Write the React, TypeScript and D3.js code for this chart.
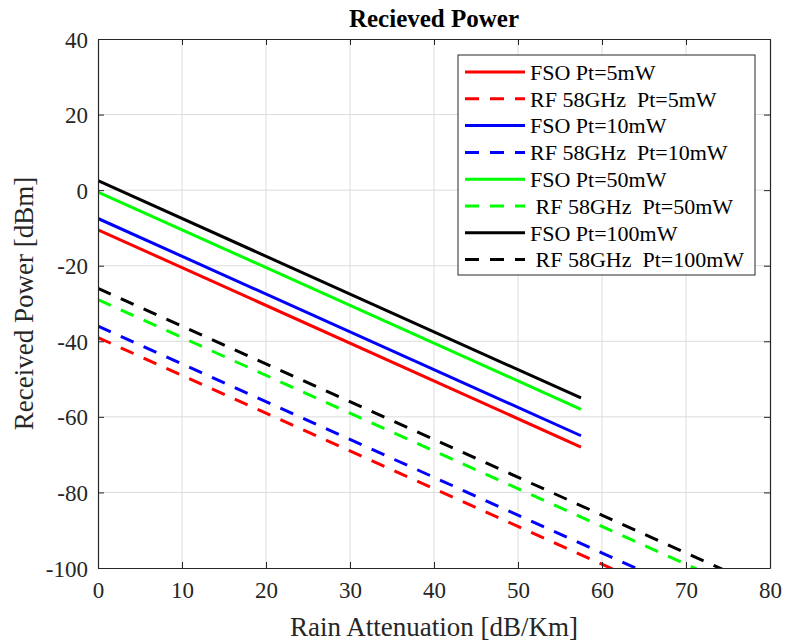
import { useEffect, useRef } from "react";
import * as d3 from "d3";

// x = rain attenuation [dB/Km], y = received power [dBm]
const fsoX = [0, 57.5];
const rfX = [0, 80];
const fso5 = [-10.5, -68];
const rf5 = [-39, -119];
const fso10 = [-7.5, -65];
const rf10 = [-36, -116];
const fso50 = [-0.5, -58];
const rf50 = [-29, -109];
const fso100 = [2.5, -55];
const rf100 = [-26, -106];

const xTicks = [0, 10, 20, 30, 40, 50, 60, 70, 80];
const yTicks = [-100, -80, -60, -40, -20, 0, 20, 40];

const series = [
  { label: "FSO Pt=5mW", x: fsoX, y: fso5, color: "#ff0000", dashed: false },
  { label: "RF 58GHz  Pt=5mW", x: rfX, y: rf5, color: "#ff0000", dashed: true },
  { label: "FSO Pt=10mW", x: fsoX, y: fso10, color: "#0000ff", dashed: false },
  { label: "RF 58GHz  Pt=10mW", x: rfX, y: rf10, color: "#0000ff", dashed: true },
  { label: "FSO Pt=50mW", x: fsoX, y: fso50, color: "#00ff00", dashed: false },
  { label: " RF 58GHz  Pt=50mW", x: rfX, y: rf50, color: "#00ff00", dashed: true },
  { label: "FSO Pt=100mW", x: fsoX, y: fso100, color: "#000000", dashed: false },
  { label: " RF 58GHz  Pt=100mW", x: rfX, y: rf100, color: "#000000", dashed: true },
];

export default function App() {
  const ref = useRef<SVGSVGElement>(null);

  useEffect(() => {
    const svg = d3.select(ref.current);
    svg.selectAll("*").remove();
    const width = 785;
    const height = 641;
    const margin = { top: 39, right: 15, bottom: 73, left: 98 };
    const innerWidth = width - margin.left - margin.right;
    const innerHeight = height - margin.top - margin.bottom;
    const font = "'Liberation Serif', 'Times New Roman', serif";

    const xScale = d3.scaleLinear().domain([0, 80]).range([0, innerWidth]);
    const yScale = d3.scaleLinear().domain([-100, 40]).range([innerHeight, 0]);

    svg.append("rect").attr("width", width).attr("height", height).attr("fill", "#fff");

    const g = svg.append("g").attr("transform", `translate(${margin.left}, ${margin.top})`);

    // grid
    g.append("g")
      .selectAll("line")
      .data(xTicks.slice(1, -1))
      .join("line")
      .attr("x1", (d) => xScale(d))
      .attr("x2", (d) => xScale(d))
      .attr("y1", 0)
      .attr("y2", innerHeight)
      .attr("stroke", "#dcdcdc")
      .attr("stroke-width", 1);
    g.append("g")
      .selectAll("line")
      .data(yTicks.slice(1, -1))
      .join("line")
      .attr("x1", 0)
      .attr("x2", innerWidth)
      .attr("y1", (d) => yScale(d))
      .attr("y2", (d) => yScale(d))
      .attr("stroke", "#dcdcdc")
      .attr("stroke-width", 1);

    // clip
    svg.append("defs")
      .append("clipPath")
      .attr("id", "plotClip")
      .append("rect")
      .attr("width", innerWidth)
      .attr("height", innerHeight);

    const line = d3
      .line<[number, number]>()
      .x((d) => xScale(d[0]))
      .y((d) => yScale(d[1]));

    const lines = g.append("g").attr("clip-path", "url(#plotClip)");
    series.forEach((s) => {
      const pts = s.x.map((x, i) => [x, s.y[i]] as [number, number]);
      lines
        .append("path")
        .attr("d", line(pts))
        .attr("fill", "none")
        .attr("stroke", s.color)
        .attr("stroke-width", 3)
        .attr("stroke-dasharray", s.dashed ? "14,11" : null);
    });

    // axes (ticks inward, box)
    const fmt = (d: d3.NumberValue) => String(d);
    const xAxis = d3.axisBottom(xScale).tickValues(xTicks).tickFormat(fmt).tickSizeInner(-6).tickSizeOuter(0).tickPadding(14);
    const yAxis = d3.axisLeft(yScale).tickValues(yTicks).tickFormat(fmt).tickSizeInner(-6).tickSizeOuter(0).tickPadding(10);
    const xa = g.append("g").attr("transform", `translate(0, ${innerHeight})`).call(xAxis);
    const ya = g.append("g").call(yAxis);
    g.append("g")
      .call(d3.axisTop(xScale).tickValues(xTicks).tickSizeInner(-6).tickSizeOuter(0).tickFormat(() => ""));
    g.append("g")
      .attr("transform", `translate(${innerWidth}, 0)`)
      .call(d3.axisRight(yScale).tickValues(yTicks).tickSizeInner(-6).tickSizeOuter(0).tickFormat(() => ""));
    g.selectAll(".domain").attr("stroke", "#262626").attr("stroke-width", 1.2);
    g.selectAll(".tick line").attr("stroke", "#262626");
    [xa, ya].forEach((a) =>
      a.selectAll(".tick text").attr("font-family", font).attr("font-size", 23).attr("fill", "#262626")
    );
    ya.selectAll(".tick text").attr("dy", "0.35em");

    // title and labels
    svg.append("text")
      .text("Recieved Power")
      .attr("x", margin.left + innerWidth / 2)
      .attr("y", 27)
      .attr("text-anchor", "middle")
      .attr("font-family", font)
      .attr("font-weight", "bold")
      .attr("font-size", 25)
      .attr("fill", "#000");
    svg.append("text")
      .text("Rain Attenuation [dB/Km]")
      .attr("x", margin.left + innerWidth / 2)
      .attr("y", 636)
      .attr("text-anchor", "middle")
      .attr("font-family", font)
      .attr("font-size", 27)
      .attr("fill", "#262626");
    svg.append("text")
      .text("Received Power [dBm]")
      .attr("transform", `translate(33, ${margin.top + innerHeight / 2}) rotate(-90)`)
      .attr("text-anchor", "middle")
      .attr("font-family", font)
      .attr("font-size", 27)
      .attr("fill", "#262626");

    // legend
    const lg = svg.append("g");
    lg.append("rect")
      .attr("x", 458)
      .attr("y", 55)
      .attr("width", 297)
      .attr("height", 220)
      .attr("fill", "#fff")
      .attr("stroke", "#262626")
      .attr("stroke-width", 1);
    series.forEach((s, i) => {
      const cy = 72 + i * 26.8;
      lg.append("line")
        .attr("x1", 465)
        .attr("x2", 525)
        .attr("y1", cy)
        .attr("y2", cy)
        .attr("stroke", s.color)
        .attr("stroke-width", 3)
        .attr("stroke-dasharray", s.dashed ? "14,11" : null);
      lg.append("text")
        .text(s.label)
        .attr("x", 530)
        .attr("y", cy)
        .attr("dy", "0.35em")
        .attr("xml:space", "preserve")
        .style("white-space", "pre")
        .attr("font-family", font)
        .attr("font-size", 22)
        .attr("fill", "#000");
    });
  }, []);

  return (
    <svg
      ref={ref}
      width={785}
      height={641}
      style={{ position: "absolute", left: 0, top: 0, display: "block" }}
    />
  );
}
